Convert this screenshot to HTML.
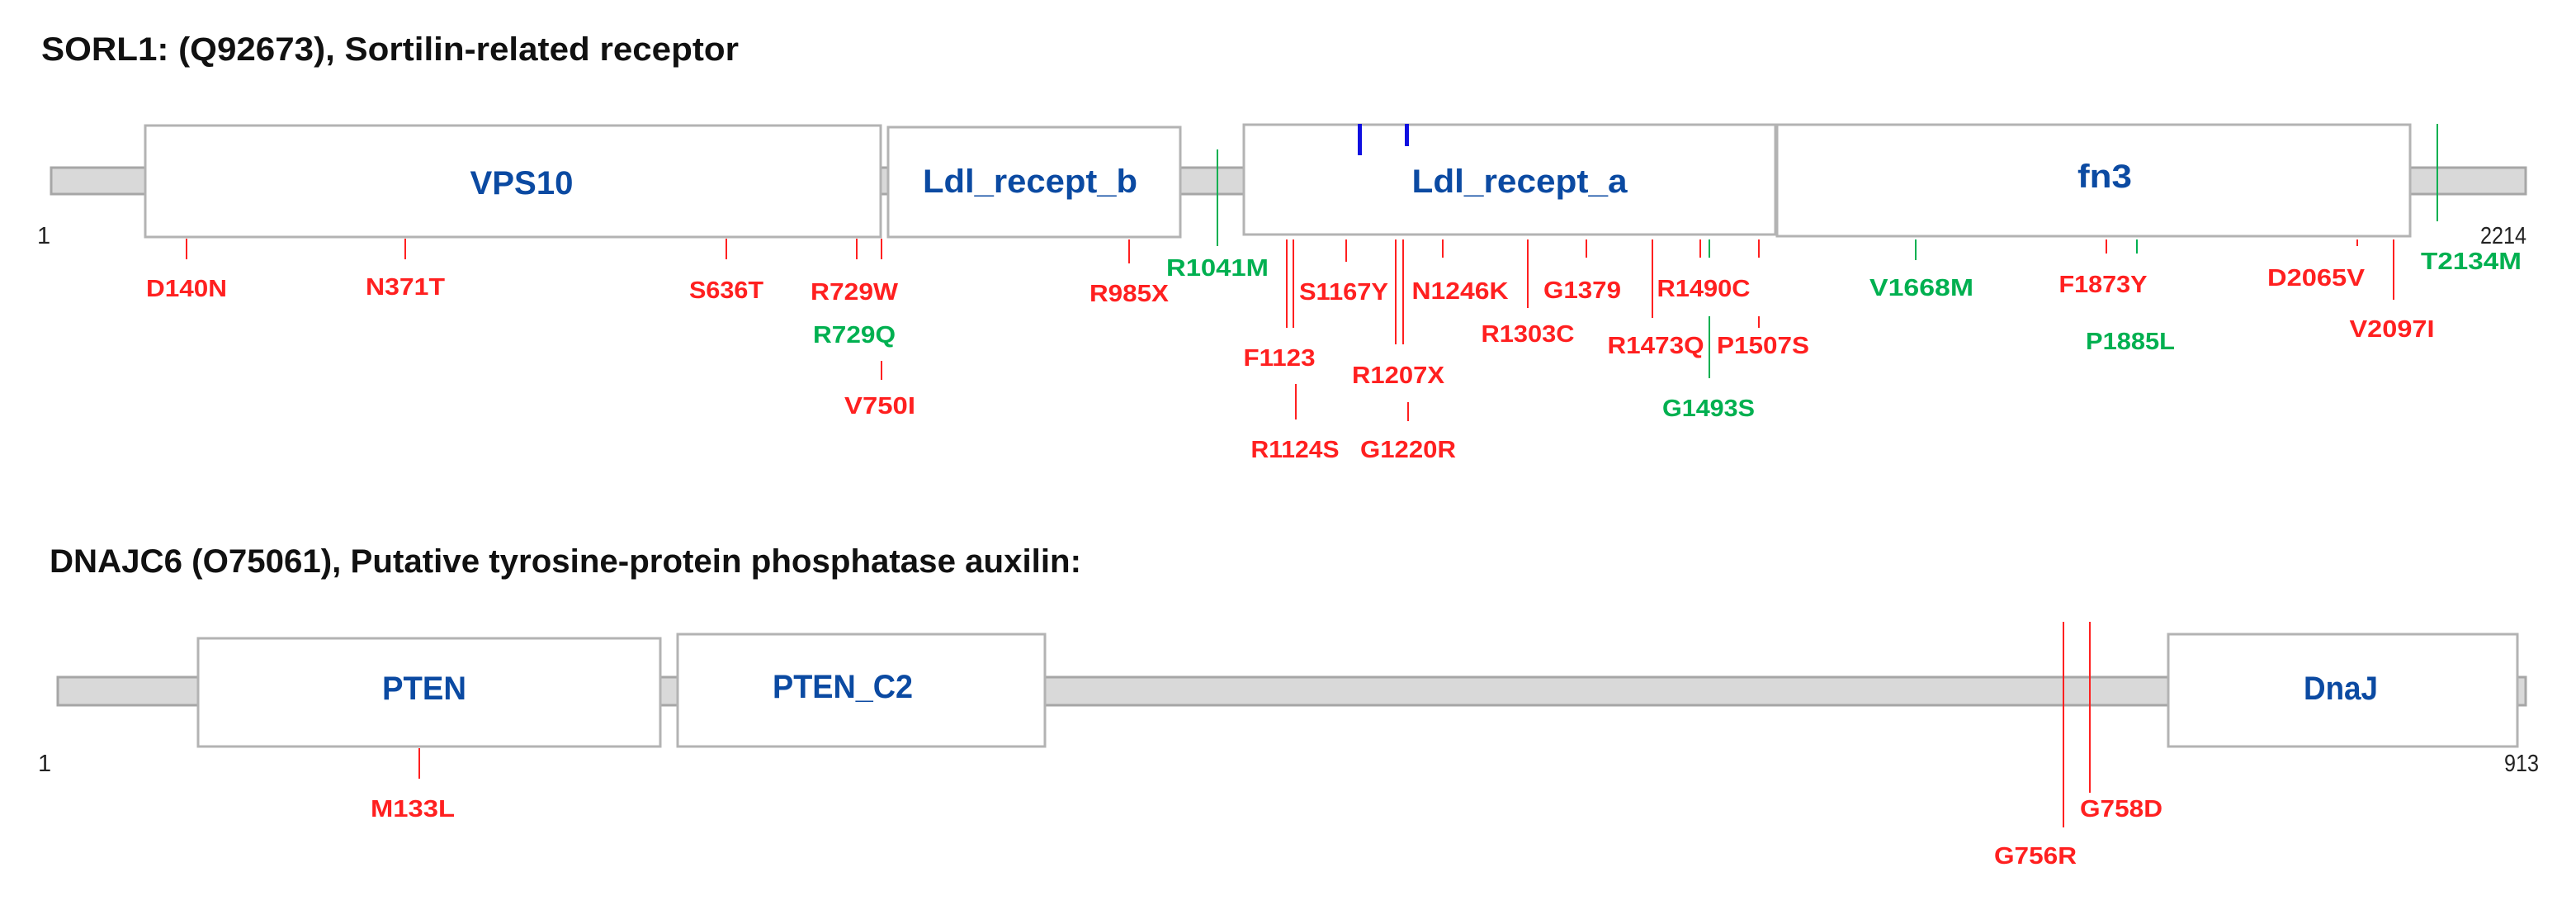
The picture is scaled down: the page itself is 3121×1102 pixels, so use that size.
<!DOCTYPE html>
<html><head><meta charset="utf-8"><style>html,body{margin:0;padding:0;background:#fff}svg{display:block}</style></head>
<body>
<svg width="3121" height="1102" viewBox="0 0 3121 1102" xmlns="http://www.w3.org/2000/svg" font-family="Liberation Sans, sans-serif">
<rect width="3121" height="1102" fill="#fff"/>
<!-- Titles -->
<text x="50" y="73" font-size="40" font-weight="bold" fill="#111" textLength="845" lengthAdjust="spacingAndGlyphs">SORL1: (Q92673), Sortilin-related receptor</text>
<text x="60" y="693" font-size="40" font-weight="bold" fill="#111" textLength="1250" lengthAdjust="spacingAndGlyphs">DNAJC6 (O75061), Putative tyrosine-protein phosphatase auxilin:</text>

<!-- SORL1 bar -->
<rect x="62" y="203" width="2998" height="32" fill="#d9d9d9" stroke="#a6a6a6" stroke-width="3"/>
<g fill="#fff" stroke="#b3b3b3" stroke-width="3">
<rect x="176" y="152" width="891" height="135"/>
<rect x="1076" y="154" width="354" height="133"/>
<rect x="1507" y="151" width="644" height="133"/>
<rect x="2153" y="151" width="767" height="135"/>
</g>
<rect x="1645" y="150" width="5" height="38" fill="#1010e0"/>
<rect x="1702" y="150" width="5" height="27" fill="#1010e0"/>
<g font-size="40" font-weight="bold" fill="#0b4aa2" text-anchor="middle">
<text x="632" y="235" textLength="125" lengthAdjust="spacingAndGlyphs">VPS10</text>
<text x="1248" y="233" textLength="260" lengthAdjust="spacingAndGlyphs">Ldl_recept_b</text>
<text x="1841" y="233" textLength="261" lengthAdjust="spacingAndGlyphs">Ldl_recept_a</text>
<text x="2550" y="227" textLength="66" lengthAdjust="spacingAndGlyphs">fn3</text>
</g>
<g font-size="29" fill="#222">
<text x="45" y="295">1</text>
<text x="3005" y="295" textLength="56" lengthAdjust="spacingAndGlyphs">2214</text>
</g>

<!-- SORL1 mutation lines -->
<g stroke="#ff2020" stroke-width="2">
<line x1="226" y1="289" x2="226" y2="314"/>
<line x1="491" y1="289" x2="491" y2="314"/>
<line x1="880" y1="289" x2="880" y2="314"/>
<line x1="1038" y1="289" x2="1038" y2="314"/>
<line x1="1068" y1="289" x2="1068" y2="314"/>
<line x1="1068" y1="437" x2="1068" y2="460"/>
<line x1="1368" y1="290" x2="1368" y2="319"/>
<line x1="1559" y1="290" x2="1559" y2="397"/>
<line x1="1567" y1="290" x2="1567" y2="397"/>
<line x1="1570" y1="465" x2="1570" y2="508"/>
<line x1="1631" y1="290" x2="1631" y2="317"/>
<line x1="1691" y1="290" x2="1691" y2="417"/>
<line x1="1700" y1="290" x2="1700" y2="417"/>
<line x1="1706" y1="487" x2="1706" y2="510"/>
<line x1="1748" y1="290" x2="1748" y2="312"/>
<line x1="1851" y1="290" x2="1851" y2="373"/>
<line x1="1922" y1="290" x2="1922" y2="312"/>
<line x1="2002" y1="290" x2="2002" y2="385"/>
<line x1="2060" y1="290" x2="2060" y2="312"/>
<line x1="2131" y1="290" x2="2131" y2="312"/>
<line x1="2131" y1="383" x2="2131" y2="397"/>
<line x1="2552" y1="290" x2="2552" y2="307"/>
<line x1="2856" y1="290" x2="2856" y2="298"/>
<line x1="2900" y1="290" x2="2900" y2="363"/>
</g>
<g stroke="#00b050" stroke-width="2">
<line x1="1475" y1="181" x2="1475" y2="298"/>
<line x1="2071" y1="290" x2="2071" y2="312"/>
<line x1="2071" y1="383" x2="2071" y2="458"/>
<line x1="2321" y1="290" x2="2321" y2="315"/>
<line x1="2589" y1="290" x2="2589" y2="307"/>
<line x1="2953" y1="150" x2="2953" y2="268"/>
</g>

<!-- SORL1 labels -->
<g font-size="29" font-weight="bold" fill="#ff2020" text-anchor="middle" lengthAdjust="spacingAndGlyphs">
<text x="226" y="359" textLength="98" lengthAdjust="spacingAndGlyphs">D140N</text>
<text x="491" y="357" textLength="96" lengthAdjust="spacingAndGlyphs">N371T</text>
<text x="880" y="361" textLength="90" lengthAdjust="spacingAndGlyphs">S636T</text>
<text x="1035" y="363" textLength="106" lengthAdjust="spacingAndGlyphs">R729W</text>
<text x="1066" y="501" textLength="86" lengthAdjust="spacingAndGlyphs">V750I</text>
<text x="1368" y="365" textLength="96" lengthAdjust="spacingAndGlyphs">R985X</text>
<text x="1550" y="443" textLength="87" lengthAdjust="spacingAndGlyphs">F1123</text>
<text x="1569" y="554" textLength="107" lengthAdjust="spacingAndGlyphs">R1124S</text>
<text x="1628" y="363" textLength="108" lengthAdjust="spacingAndGlyphs">S1167Y</text>
<text x="1694" y="464" textLength="112" lengthAdjust="spacingAndGlyphs">R1207X</text>
<text x="1706" y="554" textLength="116" lengthAdjust="spacingAndGlyphs">G1220R</text>
<text x="1769" y="362" textLength="117" lengthAdjust="spacingAndGlyphs">N1246K</text>
<text x="1851" y="414" textLength="113" lengthAdjust="spacingAndGlyphs">R1303C</text>
<text x="1917" y="361" textLength="94" lengthAdjust="spacingAndGlyphs">G1379</text>
<text x="2006" y="428" textLength="117" lengthAdjust="spacingAndGlyphs">R1473Q</text>
<text x="2064" y="359" textLength="113" lengthAdjust="spacingAndGlyphs">R1490C</text>
<text x="2136" y="428" textLength="112" lengthAdjust="spacingAndGlyphs">P1507S</text>
<text x="2548" y="354" textLength="107" lengthAdjust="spacingAndGlyphs">F1873Y</text>
<text x="2806" y="346" textLength="118" lengthAdjust="spacingAndGlyphs">D2065V</text>
<text x="2898" y="408" textLength="103" lengthAdjust="spacingAndGlyphs">V2097I</text>
</g>
<g font-size="29" font-weight="bold" fill="#00b050" text-anchor="middle">
<text x="1035" y="415" textLength="100" lengthAdjust="spacingAndGlyphs">R729Q</text>
<text x="1475" y="334" textLength="124" lengthAdjust="spacingAndGlyphs">R1041M</text>
<text x="2070" y="504" textLength="112" lengthAdjust="spacingAndGlyphs">G1493S</text>
<text x="2328" y="358" textLength="126" lengthAdjust="spacingAndGlyphs">V1668M</text>
<text x="2581" y="423" textLength="108" lengthAdjust="spacingAndGlyphs">P1885L</text>
<text x="2994" y="326" textLength="122" lengthAdjust="spacingAndGlyphs">T2134M</text>
</g>

<!-- DNAJC6 -->
<rect x="70" y="820" width="2990" height="34" fill="#d9d9d9" stroke="#a6a6a6" stroke-width="3"/>
<g fill="#fff" stroke="#b3b3b3" stroke-width="3">
<rect x="240" y="773" width="560" height="131"/>
<rect x="821" y="768" width="445" height="136"/>
<rect x="2627" y="768" width="423" height="136"/>
</g>
<g font-size="40" font-weight="bold" fill="#0b4aa2" text-anchor="middle">
<text x="514" y="847" textLength="102" lengthAdjust="spacingAndGlyphs">PTEN</text>
<text x="1021" y="845" textLength="170" lengthAdjust="spacingAndGlyphs">PTEN_C2</text>
<text x="2836" y="847" textLength="90" lengthAdjust="spacingAndGlyphs">DnaJ</text>
</g>
<g font-size="29" fill="#222">
<text x="46" y="934">1</text>
<text x="3034" y="934" textLength="42" lengthAdjust="spacingAndGlyphs">913</text>
</g>
<g stroke="#ff2020" stroke-width="2">
<line x1="508" y1="906" x2="508" y2="943"/>
<line x1="2500" y1="753" x2="2500" y2="1002"/>
<line x1="2532" y1="753" x2="2532" y2="960"/>
</g>
<g font-size="29" font-weight="bold" fill="#ff2020" text-anchor="middle">
<text x="500" y="989" textLength="102" lengthAdjust="spacingAndGlyphs">M133L</text>
<text x="2570" y="989" textLength="100" lengthAdjust="spacingAndGlyphs">G758D</text>
<text x="2466" y="1046" textLength="100" lengthAdjust="spacingAndGlyphs">G756R</text>
</g>
</svg>
</body></html>
